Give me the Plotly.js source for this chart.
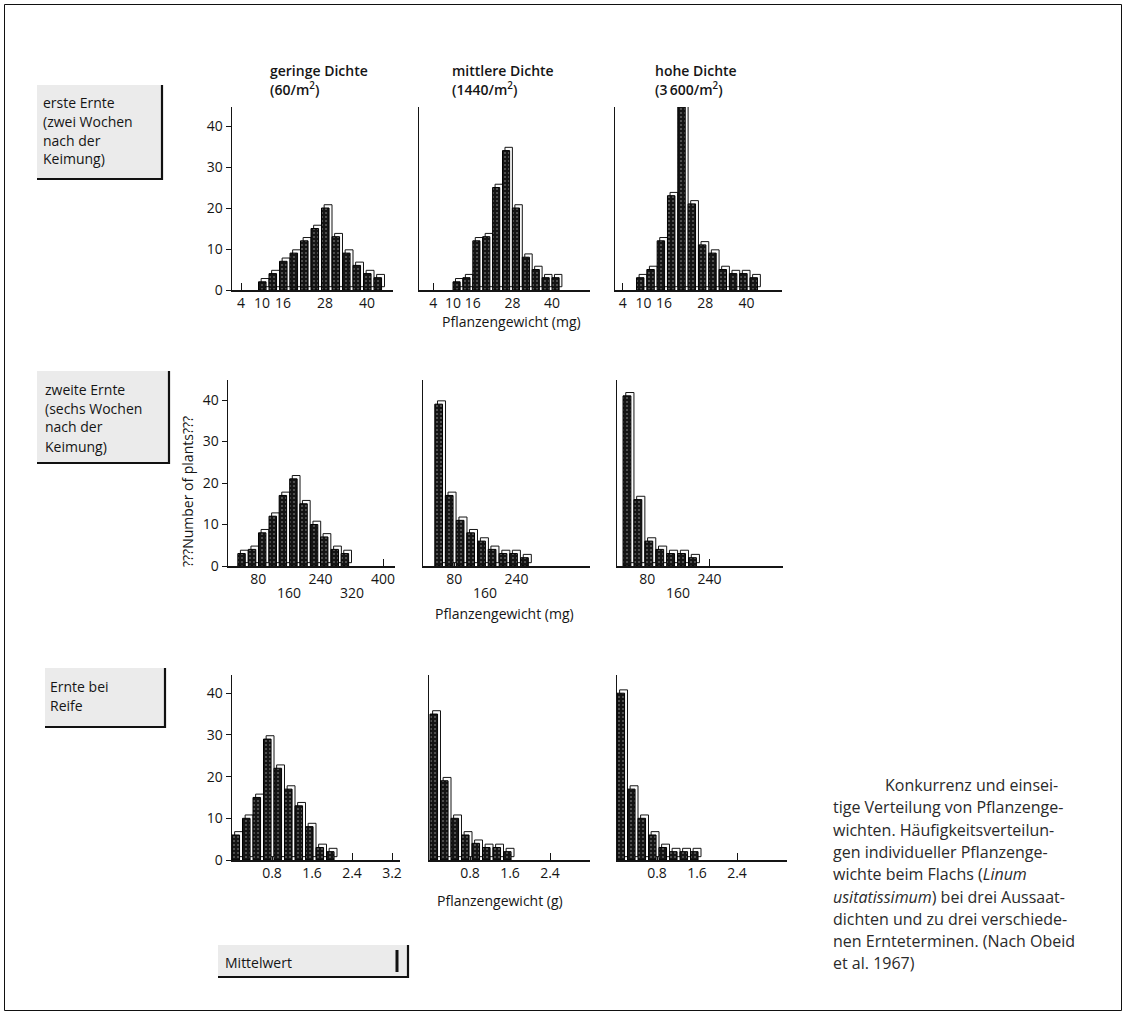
<!DOCTYPE html>
<html>
<head>
<meta charset="utf-8">
<script src="https://cdn.plot.ly/plotly-3.0.1.min.js"></script>
<style>html,body{margin:0;padding:0;background:#fff}</style>
</head>
<body>
<div id="chart" style="width:1126px;height:1015px"></div>
<script>
// Flax (Linum usitatissimum): number of plants per weight class,
// three sowing densities (columns) x three harvest dates (rows).

const densityNames = ['geringe Dichte', 'mittlere Dichte', 'hohe Dichte'];
const densityValues = ['(60/m<sup>2</sup>)', '(1440/m<sup>2</sup>)', '(3\u2009600/m<sup>2</sup>)'];
const harvestLabels = [
  ['erste Ernte', '(zwei Wochen', 'nach der', 'Keimung)'],
  ['zweite Ernte', '(sechs Wochen', 'nach der', 'Keimung)'],
  ['Ernte bei', 'Reife']
];
const weightTitles = ['Pflanzengewicht (mg)', 'Pflanzengewicht (mg)', 'Pflanzengewicht (g)'];
const countTitle = '???Number of plants???';
const meanLabel = 'Mittelwert';

// first harvest, weight class centres (mg) and counts
const h1LowX  = [10.5, 13.5, 16.5, 19.5, 22.5, 25.5, 28.5, 31.5, 34.5, 37.5, 40.5, 43.5];
const h1LowN  = [2, 4, 7, 9, 12, 15, 20, 13, 9, 6, 4, 3];
const h1MidX  = [11.5, 14.5, 17.5, 20.5, 23.5, 26.5, 29.5, 32.5, 35.5, 38.5, 41.5];
const h1MidN  = [2, 3, 12, 13, 25, 34, 20, 8, 5, 3, 3];
const h1HighX = [9.5, 12.5, 15.5, 18.5, 21.5, 24.5, 27.5, 30.5, 33.5, 36.5, 39.5, 42.5];
const h1HighN = [3, 5, 12, 23, 45, 21, 11, 9, 5, 4, 4, 3];

// second harvest (mg)
const h2LowX  = [41, 68, 94, 121, 147, 174, 200, 227, 253, 280, 306];
const h2LowN  = [3, 4, 8, 12, 17, 21, 15, 10, 7, 4, 3];
const h2MidX  = [44, 71, 99, 126, 154, 181, 209, 236, 264];
const h2MidN  = [39, 17, 11, 8, 6, 4, 3, 3, 2];
const h2HighX = [32, 60, 88, 116, 144, 172, 200];
const h2HighN = [41, 16, 6, 4, 3, 3, 2];

// harvest at maturity (g)
const h3LowX  = [0.105, 0.315, 0.525, 0.735, 0.945, 1.155, 1.365, 1.575, 1.785, 1.995];
const h3LowN  = [6, 10, 15, 29, 22, 17, 13, 8, 3, 2];
const h3MidX  = [0.105, 0.315, 0.525, 0.735, 0.945, 1.155, 1.365, 1.575];
const h3MidN  = [35, 19, 10, 6, 4, 3, 3, 2];
const h3HighX = [0.105, 0.315, 0.525, 0.735, 0.945, 1.155, 1.365, 1.575];
const h3HighN = [40, 17, 10, 6, 3, 2, 2, 2];

// tick labels
const mgTicks1 = [4, 10, 16, 28, 40];
const mgTicks2 = [80, 160, 240, 320, 400];
const gTicks   = [0.8, 1.6, 2.4, 3.2];
const countTicks = [0, 10, 20, 30, 40];

const caption = [
  'Konkurrenz und einsei-',
  'tige Verteilung von Pflanzenge-',
  'wichten. H\u00e4ufigkeitsverteilun-',
  'gen individueller Pflanzenge-',
  'wichte beim Flachs (<i>Linum</i>',
  '<i>usitatissimum</i>) bei drei Aussaat-',
  'dichten und zu drei verschiede-',
  'nen Ernteterminen. (Nach Obeid',
  'et al. 1967)'
];

// ---------------------------------------------------------------
const W = 1126, H = 1015;
const FONT = 'Open Sans, Noto Sans, DejaVu Sans, sans-serif';
const INK = '#151515';
const fx = p => p / W;
const fy = p => 1 - p / H;

// pixel frame of every small plot: axis extent, where zero sits, pixels per unit
const panels = [
  {x: h1LowX,  n: h1LowN,  bw: 3,    ticks: mgTicks1, x0: 232, x1: 393, zero: 227, ppu: 3.5,  yb: 290, yt: 107},
  {x: h1MidX,  n: h1MidN,  bw: 3,    ticks: mgTicks1, x0: 419, x1: 590, zero: 420, ppu: 3.3,  yb: 290, yt: 107},
  {x: h1HighX, n: h1HighN, bw: 3,    ticks: mgTicks1, x0: 615, x1: 782, zero: 609, ppu: 3.44, yb: 290, yt: 107},
  {x: h2LowX,  n: h2LowN,  bw: 26.5, ticks: mgTicks2, x0: 228, x1: 395, zero: 227, ppu: 0.39, yb: 566, yt: 380},
  {x: h2MidX,  n: h2MidN,  bw: 27.5, ticks: mgTicks2.slice(0, 3), x0: 423, x1: 590, zero: 423, ppu: 0.39, yb: 566, yt: 380},
  {x: h2HighX, n: h2HighN, bw: 28,   ticks: mgTicks2.slice(0, 3), x0: 617, x1: 783, zero: 616, ppu: 0.39, yb: 566, yt: 380},
  {x: h3LowX,  n: h3LowN,  bw: 0.21, ticks: gTicks, x0: 232, x1: 400, zero: 232, ppu: 50, yb: 860, yt: 675},
  {x: h3MidX,  n: h3MidN,  bw: 0.21, ticks: gTicks.slice(0, 3), x0: 429, x1: 590, zero: 430, ppu: 50, yb: 860, yt: 675},
  {x: h3HighX, n: h3HighN, bw: 0.21, ticks: gTicks.slice(0, 3), x0: 617, x1: 787, zero: 617, ppu: 50, yb: 860, yt: 675}
];
const PX_PER_COUNT = [4.1, 4.15, 4.17];
const TICK_FONT = {family: FONT, size: 14, color: INK};

const traces = [];
const layout = {
  width: W, height: H,
  margin: {l: 0, r: 0, t: 0, b: 0},
  paper_bgcolor: '#fff', plot_bgcolor: 'rgba(0,0,0,0)',
  showlegend: false, barmode: 'overlay',
  font: {family: FONT, color: INK, size: 14},
  annotations: [], shapes: []
};

const ann = (text, x, y, opts) => layout.annotations.push(Object.assign({
  text, x: fx(x), y: fy(y), xref: 'paper', yref: 'paper',
  showarrow: false, xanchor: 'left', yanchor: 'middle',
  font: {family: FONT, size: 14, color: INK}
}, opts || {}));

panels.forEach((p, i) => {
  const k = i + 1, col = i % 3, row = Math.floor(i / 3);
  const xa = 'x' + k, ya = 'y' + k;
  // raised back face of each block: light, slightly to the right and above
  traces.push({
    type: 'bar', x: p.x, y: p.n, xaxis: xa, yaxis: ya,
    base: 0.8, width: p.bw * 0.75, offset: -p.bw * 0.25,
    marker: {color: '#fbfbfb', line: {color: INK, width: 1}},
    cliponaxis: false, hoverinfo: 'skip'
  });
  // dark stippled front face
  traces.push({
    type: 'bar', x: p.x, y: p.n, xaxis: xa, yaxis: ya,
    width: p.bw * 0.72, offset: -p.bw * 0.5,
    marker: {color: '#161616', line: {color: '#000', width: 1},
             pattern: {shape: '.', bgcolor: '#141414', fgcolor: '#5c5c5c', size: 4, solidity: 0.22}},
    cliponaxis: false
  });

  // middle row: every second weight label sits one line lower
  const upper = row === 1 ? p.ticks.filter((t, j) => j % 2 === 0) : p.ticks;
  if (row === 1) {
    p.ticks.filter((t, j) => j % 2 === 1).forEach(t => layout.annotations.push({
      text: String(t), x: t, xref: xa, y: fy(592), yref: 'paper',
      showarrow: false, xanchor: 'center', yanchor: 'middle', font: TICK_FONT
    }));
  }
  layout['xaxis' + k] = {
    domain: [fx(p.x0), fx(p.x1)],
    range: [(p.x0 - p.zero) / p.ppu, (p.x1 - p.zero) / p.ppu],
    anchor: ya, showline: true, linecolor: INK, linewidth: 1.5,
    showgrid: false, zeroline: false,
    tickmode: 'array', tickvals: upper, ticktext: upper.map(String),
    ticks: 'inside', ticklen: 7, tickwidth: 1, tickcolor: INK,
    layer: 'below traces',
    tickfont: TICK_FONT, fixedrange: true
  };
  layout['yaxis' + k] = {
    domain: [fy(p.yb), fy(p.yt)], range: [0, (p.yb - p.yt) / PX_PER_COUNT[row]],
    anchor: xa, showline: true, linecolor: INK, linewidth: 1.5,
    showgrid: false, zeroline: false,
    tickmode: 'array', tickvals: countTicks,
    showticklabels: col === 0, ticks: col === 0 ? 'outside' : '',
    ticklen: 5, tickwidth: 1, tickcolor: INK,
    layer: 'below traces',
    tickfont: TICK_FONT, fixedrange: true
  };
});

// column heads
const headX = [268, 450, 653];
const headFont = {family: FONT, size: 14, color: INK, weight: 600};
densityNames.forEach((d, i) => {
  ann(d, headX[i], 70, {font: headFont});
  ann(densityValues[i], headX[i], 89, {font: headFont});
});

// harvest boxes (pale stippled card with a dark right and bottom edge)
const boxes = [
  {x0: 37, x1: 162, y0: 85, y1: 179, tx: 41, ty: 102},
  {x0: 37, x1: 169, y0: 371, y1: 463, tx: 43, ty: 389},
  {x0: 45, x1: 165, y0: 668, y1: 727, tx: 48, ty: 686}
];
const card = (b) => {
  layout.shapes.push({type: 'rect', xref: 'paper', yref: 'paper',
    x0: fx(b.x0), x1: fx(b.x1), y0: fy(b.y1), y1: fy(b.y0),
    fillcolor: '#ebebeb', line: {width: 0}, layer: 'below'});
  layout.shapes.push({type: 'path', xref: 'paper', yref: 'paper',
    path: `M ${fx(b.x1)} ${fy(b.y0)} L ${fx(b.x1)} ${fy(b.y1)} L ${fx(b.x0)} ${fy(b.y1)}`,
    line: {color: '#111', width: 2.2}});
};
boxes.forEach((b, i) => {
  card(b);
  harvestLabels[i].forEach((t, j) => ann(t, b.tx, b.ty + j * 19));
});

// mean marker card
const meanBox = {x0: 218, x1: 408, y0: 945, y1: 977};
card(meanBox);
ann(meanLabel, 223, 962);
layout.shapes.push({type: 'line', xref: 'paper', yref: 'paper',
  x0: fx(397), x1: fx(397), y0: fy(950), y1: fy(972), line: {color: '#111', width: 3}});

// axis titles
ann(countTitle, 187, 492, {textangle: -90, xanchor: 'center', yanchor: 'middle'});
ann(weightTitles[0], 511, 321, {xanchor: 'center'});
ann(weightTitles[1], 505, 613, {xanchor: 'center'});
ann(weightTitles[2], 500, 900, {xanchor: 'center'});

// caption
const capFont = {family: FONT, size: 16, color: '#2a2a2a'};
caption.forEach((t, i) => ann(t, i === 0 ? 883 : 831, 785 + i * 22.3, {font: capFont}));

// outer frame
layout.shapes.push({type: 'rect', xref: 'paper', yref: 'paper',
  x0: fx(4.5), x1: fx(1121.5), y0: fy(1010.5), y1: fy(4.5),
  line: {color: '#111', width: 1}, fillcolor: 'rgba(0,0,0,0)'});

Plotly.newPlot('chart', traces, layout, {staticPlot: true, displayModeBar: false});
</script>
</body>
</html>
